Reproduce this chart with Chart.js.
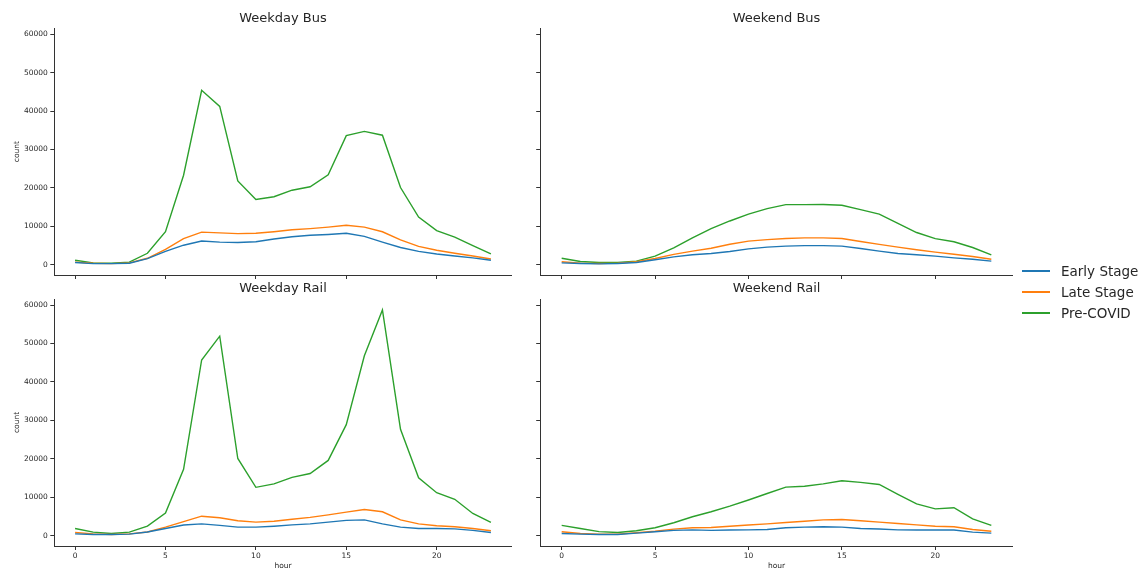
<!DOCTYPE html>
<html>
<head>
<meta charset="utf-8">
<script src="https://cdn.jsdelivr.net/npm/chart.js@4.4.1/dist/chart.umd.min.js"></script>
<style>
  html, body { margin: 0; padding: 0; background: #fff; overflow: hidden; }
  body { width: 1144px; height: 569px; position: relative; font-family: "DejaVu Sans", sans-serif; color: #262626; }
  canvas { position: absolute; }
  .item { position: absolute; left: 1022px; height: 20px; display: flex; align-items: center; font-size: 13.5px; white-space: nowrap; }
  .item span.swatch { display: inline-block; width: 28px; height: 1.5px; margin-right: 11px; }
</style>
</head>
<body>
<canvas id="wdBus" width="530" height="282" style="left:0;top:0"></canvas>
<canvas id="weBus" width="500" height="282" style="left:530px;top:0"></canvas>
<canvas id="wdRail" width="530" height="300" style="left:0;top:276px"></canvas>
<canvas id="weRail" width="500" height="300" style="left:530px;top:276px"></canvas>

<div class="item" style="top:261px"><span class="swatch" style="background:#1f77b4"></span>Early Stage</div>
<div class="item" style="top:282px"><span class="swatch" style="background:#ff7f0e"></span>Late Stage</div>
<div class="item" style="top:303px"><span class="swatch" style="background:#2ca02c"></span>Pre-COVID</div>

<script>
const hours = [0, 1, 2, 3, 4, 5, 6, 7, 8, 9, 10, 11, 12, 13, 14, 15, 16, 17, 18, 19, 20, 21, 22, 23]
const seriesNames = ["Early Stage", "Late Stage", "Pre-COVID"]
const seriesColors = ["#1f77b4", "#ff7f0e", "#2ca02c"]
const xTicks = [0, 5, 10, 15, 20]
const yTicks = [0, 10000, 20000, 30000, 40000, 50000, 60000]

const weekdayBusEarly = [600, 300, 300, 400, 1600, 3500, 5100, 6200, 5900, 5800, 6000, 6700, 7300, 7700, 7900, 8200, 7400, 5900, 4500, 3500, 2800, 2300, 1800, 1200]
const weekdayBusLate = [700, 400, 300, 500, 1700, 4000, 6800, 8500, 8300, 8100, 8200, 8600, 9100, 9400, 9800, 10300, 9800, 8600, 6500, 4800, 3800, 3000, 2300, 1500]
const weekdayBusPre = [1200, 500, 400, 700, 3000, 8600, 23300, 45400, 41200, 21800, 17000, 17700, 19400, 20300, 23400, 33600, 34700, 33700, 20100, 12400, 8900, 7200, 5000, 2850]

const weekendBusEarly = [500, 350, 250, 350, 600, 1300, 2050, 2600, 2950, 3450, 4150, 4600, 4850, 5000, 5000, 4850, 4250, 3550, 2950, 2600, 2250, 1800, 1450, 950]
const weekendBusLate = [800, 450, 350, 430, 800, 1650, 2700, 3550, 4300, 5350, 6150, 6550, 6850, 7000, 7000, 6850, 6050, 5300, 4600, 3900, 3300, 2750, 2150, 1450]
const weekendBusPre = [1700, 850, 600, 600, 950, 2250, 4400, 7000, 9400, 11400, 13200, 14600, 15650, 15650, 15700, 15500, 14350, 13200, 10800, 8400, 6800, 6000, 4500, 2600]

const weekdayRailEarly = [500, 350, 350, 430, 1000, 1900, 2800, 3100, 2700, 2250, 2250, 2500, 2850, 3100, 3550, 4000, 4150, 3100, 2250, 1900, 1900, 1800, 1400, 870]
const weekdayRailLate = [870, 500, 350, 500, 1000, 2250, 3700, 5100, 4700, 3900, 3550, 3800, 4300, 4800, 5450, 6150, 6850, 6250, 4150, 3100, 2600, 2350, 1900, 1300]
const weekdayRailPre = [1900, 950, 600, 950, 2500, 5900, 17300, 45700, 51900, 20100, 12600, 13500, 15200, 16200, 19600, 28900, 46800, 58700, 27700, 15100, 11200, 9500, 5800, 3500]

const weekendRailEarly = [600, 430, 350, 350, 700, 1050, 1400, 1550, 1400, 1500, 1550, 1650, 2100, 2250, 2350, 2250, 1900, 1750, 1550, 1500, 1500, 1500, 950, 700]
const weekendRailLate = [1050, 600, 430, 430, 780, 1200, 1750, 2100, 2150, 2500, 2800, 3100, 3450, 3800, 4150, 4250, 3900, 3550, 3200, 2850, 2500, 2350, 1650, 1200]
const weekendRailPre = [2700, 1900, 1100, 870, 1300, 2100, 3400, 4950, 6250, 7700, 9300, 11000, 12650, 12900, 13500, 14300, 13900, 13350, 10800, 8300, 7000, 7300, 4400, 2700]

const textColor = "#262626"
const axisColor = "#333333"

Chart.defaults.font.family = "'DejaVu Sans', sans-serif"
Chart.defaults.color = textColor

const panels = [
  { id: "wdBus", title: "Weekday Bus", series: [weekdayBusEarly, weekdayBusLate, weekdayBusPre], left: true, bottom: false },
  { id: "weBus", title: "Weekend Bus", series: [weekendBusEarly, weekendBusLate, weekendBusPre], left: false, bottom: false },
  { id: "wdRail", title: "Weekday Rail", series: [weekdayRailEarly, weekdayRailLate, weekdayRailPre], left: true, bottom: true },
  { id: "weRail", title: "Weekend Rail", series: [weekendRailEarly, weekendRailLate, weekendRailPre], left: false, bottom: true }
]

function drawPanel(p) {
  const tickFont = { size: 7.5 }

  const datasets = p.series.map((values, i) => ({
    label: seriesNames[i],
    data: hours.map((h, k) => ({ x: h, y: values[k] })),
    borderColor: seriesColors[i],
    backgroundColor: seriesColors[i],
    borderWidth: 1.4,
    pointRadius: 0,
    tension: 0,
    fill: false
  }))

  new Chart(document.getElementById(p.id), {
    type: "line",
    data: { datasets },
    options: {
      responsive: false,
      animation: false,
      devicePixelRatio: 1,
      layout: { padding: { left: 0, top: 0, bottom: 0, right: p.left ? 18.3 : 17.2 } },
      plugins: {
        legend: { display: false },
        tooltip: { enabled: false },
        title: {
          display: true,
          text: p.title,
          fullSize: false,
          color: textColor,
          font: { size: 13, weight: "normal" },
          padding: p.bottom ? { top: 5.1, bottom: 2.3 } : { top: 10.5, bottom: 2 }
        }
      },
      scales: {
        x: {
          type: "linear",
          min: -1.15,
          max: 24.15,
          afterBuildTicks: axis => { axis.ticks = xTicks.map(v => ({ value: v })) },
          afterFit: axis => { axis.height = p.bottom ? 30 : 7 },
          grid: { drawOnChartArea: false, drawTicks: true, tickLength: 4, color: axisColor, tickColor: axisColor },
          border: { display: true, color: axisColor, width: 1 },
          ticks: { display: p.bottom, padding: 1.5, font: tickFont, color: textColor, maxRotation: 0, autoSkip: false },
          title: { display: p.bottom, text: "hour", font: tickFont, color: textColor, padding: { top: 0, bottom: 5.3 } }
        },
        y: {
          type: "linear",
          min: -2650,
          max: 61560,
          afterBuildTicks: axis => { axis.ticks = yTicks.map(v => ({ value: v })) },
          afterFit: axis => { axis.width = p.left ? 54.3 : 10.2 },
          grid: { drawOnChartArea: false, drawTicks: true, tickLength: 4, color: axisColor, tickColor: axisColor },
          border: { display: true, color: axisColor, width: 1 },
          ticks: { display: p.left, padding: 2.5, font: tickFont, color: textColor, callback: v => String(v) },
          title: { display: p.left, text: "count", font: tickFont, color: textColor, padding: { top: 12.5, bottom: 0 } }
        }
      }
    }
  })
}

panels.forEach(drawPanel)
</script>
</body>
</html>
